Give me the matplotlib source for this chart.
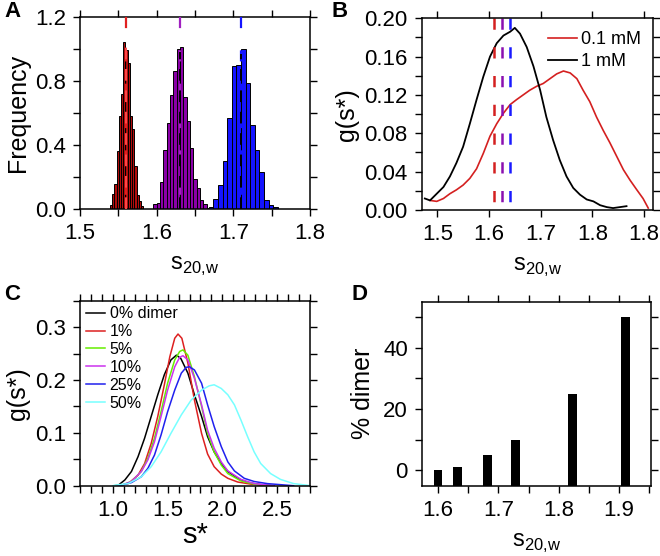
import matplotlib
matplotlib.use("Agg")
import matplotlib.pyplot as plt
import numpy as np
from matplotlib.ticker import MultipleLocator, FixedLocator, FormatStrFormatter

plt.rcParams['font.family'] = ['Liberation Sans', 'DejaVu Sans']
plt.rcParams['axes.linewidth'] = 1.1

# ---- panel A: histograms ----
red_start, red_width = 1.539, 0.0029
red_counts = [0.027, 0.095, 0.16, 0.36, 0.58, 0.72, 1.04, 0.99, 0.91, 0.58, 0.50, 0.27, 0.09, 0.05, 0.02]
pur_start, pur_width = 1.5956, 0.00435
pur_counts = [0.03, 0.04, 0.17, 0.37, 0.54, 0.71, 0.86, 1.00, 1.01, 0.70, 0.55, 0.38, 0.19, 0.13, 0.06, 0.03, 0.01]
blu_start, blu_width = 1.668, 0.006
blu_counts = [0.017, 0.065, 0.15, 0.30, 0.57, 0.89, 0.90, 1.00, 0.785, 0.525, 0.37, 0.23, 0.06, 0.025, 0.012]
hist_means = [1.56, 1.63, 1.71]
hist_colors = ['#b00c0c', '#8a00a8', '#1414ff']

# ---- panel B: g(s*) curves ----
b_x_1mM = [1.476, 1.486, 1.499, 1.512, 1.5245, 1.537, 1.550, 1.563, 1.576, 1.589, 1.602, 1.615, 1.628,
           1.641, 1.650, 1.660, 1.673, 1.686, 1.699, 1.711, 1.724, 1.737, 1.750, 1.763, 1.776, 1.789,
           1.802, 1.815, 1.828, 1.840, 1.853, 1.866]
b_y_1mM = [0.012, 0.010, 0.017, 0.024, 0.035, 0.049, 0.066, 0.090, 0.115, 0.139, 0.160, 0.174, 0.182,
           0.186, 0.190, 0.184, 0.170, 0.150, 0.125, 0.097, 0.073, 0.052, 0.035, 0.023, 0.016, 0.011,
           0.009, 0.005, 0.003, 0.002, 0.003, 0.004]
b_x_01mM = [1.486, 1.499, 1.512, 1.5245, 1.537, 1.550, 1.563, 1.576, 1.589, 1.602, 1.615, 1.628, 1.641,
            1.653, 1.666, 1.679, 1.692, 1.705, 1.718, 1.731, 1.744, 1.757, 1.770, 1.782, 1.795, 1.808,
            1.821, 1.834, 1.847, 1.860, 1.873, 1.886, 1.898, 1.908]
b_y_01mM = [0.010, 0.009, 0.012, 0.017, 0.021, 0.026, 0.033, 0.043, 0.059, 0.077, 0.090, 0.101, 0.110,
            0.115, 0.120, 0.125, 0.129, 0.132, 0.137, 0.142, 0.145, 0.143, 0.137, 0.125, 0.113, 0.097,
            0.083, 0.070, 0.056, 0.042, 0.031, 0.021, 0.012, 0.002]
b_means = [1.6096, 1.6244, 1.6405]
b_mean_colors = ['#d42020', '#8a10b0', '#1a1aff']
b_xticks = [1.5, 1.6, 1.7, 1.8, 1.9]
b_xticklabels = ['1.5', '1.6', '1.7', '1.8', '1.8']

# ---- panel C: simulated distributions ----
c_labels = ['0% dimer', '1%', '5%', '10%', '25%', '50%']
c_colors = ['black', '#dd2020', '#66ee00', '#cc33ee', '#2020ee', '#77ffff']
c_x = [
    [1.02, 1.05, 1.11, 1.17, 1.23, 1.29, 1.35, 1.41, 1.47, 1.53, 1.58, 1.62, 1.685, 1.745, 1.81, 1.865,
     1.925, 1.99, 2.05, 2.14, 2.23, 2.35, 2.47],
    [1.02, 1.05, 1.14, 1.23, 1.29, 1.35, 1.41, 1.47, 1.52, 1.565, 1.595, 1.63, 1.685, 1.745, 1.81, 1.865,
     1.925, 1.99, 2.05, 2.14, 2.26, 2.41],
    [1.05, 1.08, 1.17, 1.26, 1.32, 1.38, 1.44, 1.50, 1.565, 1.61, 1.64, 1.685, 1.745, 1.81, 1.865, 1.925,
     1.99, 2.05, 2.17, 2.29, 2.44],
    [1.05, 1.08, 1.17, 1.26, 1.32, 1.38, 1.44, 1.50, 1.565, 1.61, 1.64, 1.685, 1.745, 1.81, 1.865, 1.925,
     1.99, 2.05, 2.17, 2.29, 2.47],
    [1.05, 1.08, 1.17, 1.26, 1.32, 1.38, 1.44, 1.50, 1.565, 1.625, 1.67, 1.70, 1.745, 1.81, 1.865, 1.925,
     1.99, 2.05, 2.11, 2.20, 2.29, 2.41, 2.53, 2.65],
    [1.0, 1.02, 1.14, 1.26, 1.35, 1.44, 1.53, 1.625, 1.715, 1.81, 1.88, 1.925, 1.99, 2.05, 2.11, 2.17,
     2.23, 2.29, 2.35, 2.44, 2.53, 2.65, 2.77, 2.8],
]
c_y = [
    [0.0, 0.001, 0.011, 0.027, 0.055, 0.090, 0.131, 0.172, 0.210, 0.238, 0.247, 0.241, 0.213, 0.172, 0.131,
     0.093, 0.064, 0.042, 0.027, 0.014, 0.006, 0.002, 0.0],
    [0.0, 0.0, 0.004, 0.020, 0.042, 0.080, 0.131, 0.191, 0.244, 0.279, 0.287, 0.279, 0.232, 0.162, 0.099,
     0.060, 0.036, 0.022, 0.014, 0.007, 0.003, 0.0],
    [0.0, 0.001, 0.008, 0.027, 0.052, 0.090, 0.140, 0.194, 0.238, 0.254, 0.257, 0.247, 0.206, 0.150, 0.099,
     0.064, 0.039, 0.023, 0.009, 0.003, 0.0],
    [0.0, 0.001, 0.008, 0.027, 0.049, 0.083, 0.131, 0.181, 0.225, 0.243, 0.246, 0.238, 0.203, 0.153, 0.105,
     0.071, 0.045, 0.028, 0.012, 0.004, 0.0],
    [0.0, 0.001, 0.006, 0.017, 0.033, 0.058, 0.096, 0.140, 0.181, 0.213, 0.224, 0.225, 0.219, 0.194, 0.153,
     0.112, 0.074, 0.045, 0.028, 0.014, 0.008, 0.004, 0.002, 0.0],
    [0.0, 0.001, 0.004, 0.017, 0.036, 0.064, 0.099, 0.134, 0.162, 0.181, 0.189, 0.191, 0.184, 0.172, 0.153,
     0.124, 0.093, 0.064, 0.042, 0.023, 0.012, 0.004, 0.001, 0.0],
]

# ---- panel D: % dimer vs s20,w ----
d_s = [1.600, 1.6325, 1.682, 1.728, 1.823, 1.911]
d_dimer = [0, 1, 5, 10, 25, 50]

TICK = 16
LAB = 17
sub_label = r's$_\mathregular{20{,}w}$'


def style(ax):
    ax.tick_params(which='both', direction='out', top=True, right=True, labelsize=TICK,
                   width=1.0, length=5, pad=5)
    ax.tick_params(which='minor', length=5)


fig = plt.figure(figsize=(6.6, 5.56), dpi=100)
axA = fig.add_axes([0.1212, 0.6236, 0.3485, 0.3464])
axB = fig.add_axes([0.639, 0.6223, 0.351, 0.3448])
axC = fig.add_axes([0.1212, 0.1264, 0.3485, 0.3327])
axD = fig.add_axes([0.639, 0.1264, 0.348, 0.331])

# A
for start, w, counts, col in [(red_start, red_width, red_counts, hist_colors[0]),
                              (pur_start, pur_width, pur_counts, hist_colors[1]),
                              (blu_start, blu_width, blu_counts, hist_colors[2])]:
    lefts = start + w * np.arange(len(counts))
    axA.bar(lefts, counts, width=w, align='edge', color=col, edgecolor='black', linewidth=0.7, zorder=2)
inner_cols = ['#ff4a4a', 'black', 'black']
top_cols = ['#e02020', '#a020c0', '#1414ff']
peaks = [max(red_counts), max(pur_counts), max(blu_counts)]
for m, col, icol, pk in zip(hist_means, top_cols, inner_cols, peaks):
    axA.plot([m, m], [1.2, 0], color=col, lw=1.6, dashes=(5, 10), zorder=3)
    axA.plot([m, m], [0, pk - 0.03], color=icol, lw=1.4, dashes=(6, 5), zorder=4)
axA.set_xlim(1.5, 1.8)
axA.set_ylim(0, 1.2)
axA.xaxis.set_major_locator(MultipleLocator(0.1))
axA.xaxis.set_minor_locator(MultipleLocator(0.05))
axA.yaxis.set_major_locator(MultipleLocator(0.4))
axA.yaxis.set_minor_locator(MultipleLocator(0.2))
axA.xaxis.set_major_formatter(FormatStrFormatter('%.1f'))
axA.yaxis.set_major_formatter(FormatStrFormatter('%.1f'))
style(axA)
axA.set_ylabel('Frequency', fontsize=LAB + 1, labelpad=4)
axA.set_xlabel(sub_label, fontsize=LAB, labelpad=8)

# B
axB.plot(b_x_01mM, b_y_01mM, color='#d42020', lw=1.2, label='0.1 mM')
axB.plot(b_x_1mM, b_y_1mM, color='black', lw=1.3, label='1 mM')
for m, col in zip(b_means, b_mean_colors):
    axB.plot([m, m], [0.2, 0], color=col, lw=1.8, dashes=(4.5, 7))
axB.set_xlim(1.47, 1.918)
axB.set_ylim(0, 0.2)
axB.xaxis.set_major_locator(FixedLocator(b_xticks))
axB.set_xticklabels(b_xticklabels)
axB.yaxis.set_major_locator(MultipleLocator(0.04))
axB.yaxis.set_minor_locator(MultipleLocator(0.02))
axB.yaxis.set_major_formatter(FormatStrFormatter('%.2f'))
style(axB)
axB.set_ylabel('g(s*)', fontsize=LAB + 1, labelpad=4)
axB.set_xlabel(sub_label, fontsize=LAB, labelpad=8)
axB.legend(loc='upper right', frameon=False, fontsize=13, handlelength=1.6,
           handletextpad=0.2, labelspacing=0.3, borderaxespad=0.3)

# C
for xs, ys, col, lab in zip(c_x, c_y, c_colors, c_labels):
    axC.plot(xs, ys, color=col, lw=1.1, label=lab)
axC.set_xlim(0.7, 2.8)
axC.set_ylim(0, 0.35)
axC.xaxis.set_major_locator(MultipleLocator(0.5))
axC.xaxis.set_minor_locator(MultipleLocator(0.1))
axC.yaxis.set_major_locator(MultipleLocator(0.1))
axC.yaxis.set_minor_locator(MultipleLocator(0.05))
axC.xaxis.set_major_formatter(FormatStrFormatter('%.1f'))
axC.yaxis.set_major_formatter(FormatStrFormatter('%.1f'))
style(axC)
axC.set_ylabel('g(s*)', fontsize=LAB + 1, labelpad=4)
axC.set_xlabel('s*', fontsize=LAB + 4, labelpad=0)
axC.legend(loc='upper left', frameon=False, fontsize=11.5, handlelength=1.2,
           handletextpad=0.3, labelspacing=0.18, borderaxespad=0.05, borderpad=0.3)

# D
axD.bar(d_s, np.array(d_dimer) + 5, bottom=-5, width=0.0146, color='black', zorder=2)
axD.set_xlim(1.573, 1.9535)
axD.set_ylim(-5, 55)
axD.xaxis.set_major_locator(MultipleLocator(0.1))
axD.xaxis.set_minor_locator(MultipleLocator(0.05))
axD.yaxis.set_major_locator(MultipleLocator(20))
axD.yaxis.set_minor_locator(MultipleLocator(10))
axD.xaxis.set_major_formatter(FormatStrFormatter('%.1f'))
style(axD)
axD.set_ylabel('% dimer', fontsize=LAB + 1, labelpad=6)
axD.set_xlabel(sub_label, fontsize=LAB, labelpad=8)

for txt, x, y in [('A', 0.006, 0.998), ('B', 0.503, 0.998), ('C', 0.006, 0.49), ('D', 0.533, 0.49)]:
    fig.text(x, y, txt, fontsize=16, fontweight='bold', va='top', ha='left')

fig.savefig('out.png', dpi=100)
